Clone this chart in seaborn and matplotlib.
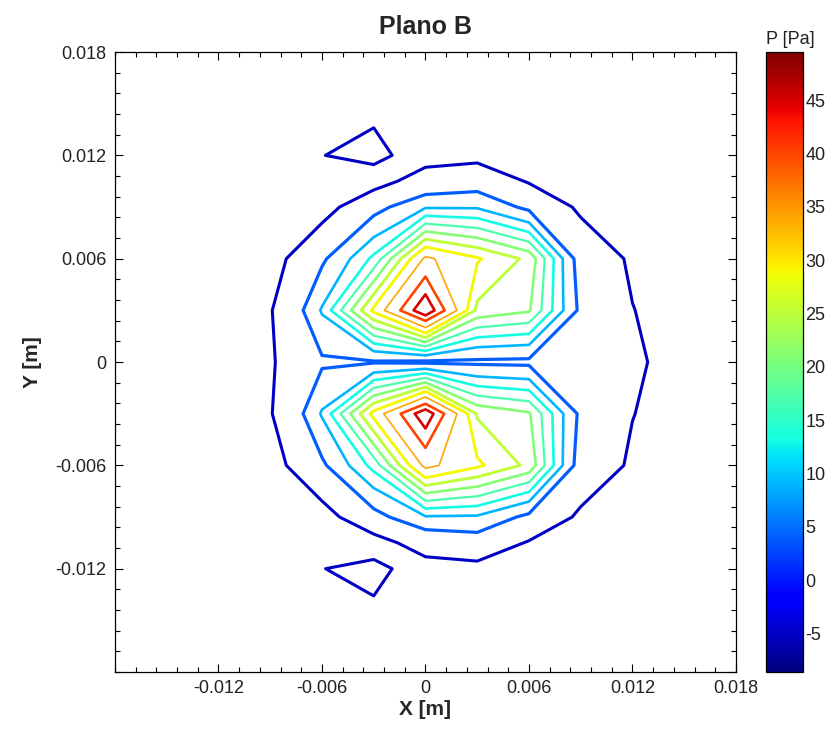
import numpy as np
import matplotlib
matplotlib.use("Agg")
import matplotlib.pyplot as plt
import matplotlib.colors as mcolors
import matplotlib.cm as cm
from matplotlib.ticker import MultipleLocator
import seaborn as sns

# grid coordinates of the pressure samples [m]
x_m = [-0.018, -0.015, -0.012, -0.009, -0.006, -0.003, 0.0,
       0.003, 0.006, 0.009, 0.012, 0.015, 0.018]
y_m = [-0.018, -0.015, -0.012, -0.0105, -0.009, -0.006, -0.003, 0.0,
       0.003, 0.006, 0.009, 0.0105, 0.012, 0.015, 0.018]

# pressure [Pa], one row per y value (bottom to top)
p_y_m018 = [-8.4, -8.3, -8.2, -8.0, -7.8, -7.6, -7.8, -8.0, -8.2, -8.3, -8.4, -8.5, -8.5]
p_y_m015 = [-8.3, -8.2, -8.0, -7.5, -7.0, -6.8, -7.0, -7.5, -8.0, -8.0, -8.2, -8.3, -8.4]
p_y_m012 = [-8.3, -8.0, -7.5, -6.5, -5.15, -3.0, -8.6, -7.5, -7.5, -7.5, -8.0, -8.2, -8.3]
p_y_m0105 = [-8.0, -8.0, -7.8, -8.0, -8.2, -8.6, -0.8, 1.0, -5.7, -7.0, -7.5, -8.0, -8.0]
p_y_m009 = [-8.0, -7.8, -7.5, -7.5, -8.6, 2.0, 8.6, 8.4, 2.6, -6.5, -7.5, -8.0, -8.0]
p_y_m006 = [-7.8, -7.5, -7.0, -8.6, 3.0, 14.5, 35.5, 29.8, 24.0, 1.0, -6.2, -8.2, -7.8]
p_y_m003 = [-7.5, -7.0, -6.8, -5.6, 9.5, 30.5, 48.8, 24.5, 21.5, 2.7, -4.8, -8.6, -7.5]
p_y_0 = [-7.5, -7.0, -6.5, -5.9, 3.2, 3.5, 3.0, 3.0, 2.8, 1.0, -3.5, -8.6, -7.5]
p_y_003 = [-7.5, -7.0, -6.8, -5.6, 9.5, 30.0, 49.5, 24.0, 21.5, 2.7, -4.8, -8.6, -7.5]
p_y_006 = [-7.8, -7.5, -7.0, -8.6, 3.0, 14.0, 35.0, 29.5, 24.0, 1.0, -6.2, -8.2, -7.8]
p_y_009 = [-8.0, -7.8, -7.5, -7.5, -8.6, 2.0, 8.5, 8.5, 2.6, -6.5, -7.5, -8.0, -8.0]
p_y_0105 = [-8.0, -8.0, -7.8, -8.0, -8.2, -8.6, -0.8, 1.0, -5.67, -7.0, -7.5, -8.0, -8.0]
p_y_012 = [-8.3, -8.0, -7.5, -6.5, -5.14, -3.0, -8.6, -7.5, -7.5, -7.5, -8.0, -8.2, -8.3]
p_y_015 = [-8.3, -8.2, -8.0, -7.5, -7.0, -6.75, -7.0, -7.5, -8.0, -8.0, -8.2, -8.3, -8.4]
p_y_018 = [-8.4, -8.3, -8.2, -8.0, -7.8, -7.6, -7.8, -8.0, -8.2, -8.3, -8.4, -8.5, -8.5]

levels = [-5, 4, 9, 13, 17, 21, 25, 29, 34, 40, 45]
p_min, p_max = -8.6, 49.5

x_ticks = [-0.012, -0.006, 0.0, 0.006, 0.012, 0.018]
x_ticklabels = ["-0.012", "-0.006", "0", "0.006", "0.012", "0.018"]
y_ticks = [-0.012, -0.006, 0.0, 0.006, 0.012, 0.018]
y_ticklabels = ["-0.012", "-0.006", "0", "0.006", "0.012", "0.018"]
cbar_ticks = [-5, 0, 5, 10, 15, 20, 25, 30, 35, 40, 45]

P = np.array([p_y_m018, p_y_m015, p_y_m012, p_y_m0105, p_y_m009, p_y_m006,
              p_y_m003, p_y_0, p_y_003, p_y_006, p_y_009, p_y_0105,
              p_y_012, p_y_015, p_y_018])

sns.set_theme(style="white")
plt.rcParams["font.family"] = ["Liberation Sans", "DejaVu Sans"]
plt.rcParams["axes.unicode_minus"] = False

fig = plt.figure(figsize=(8.35, 7.38), dpi=100)
ax = fig.add_axes([0.1377, 0.0894, 0.7437, 0.8401])
cax = fig.add_axes([0.917, 0.0894, 0.0443, 0.8401])

cmap = matplotlib.colormaps["jet"]
norm = mcolors.Normalize(vmin=p_min, vmax=p_max)
line_w = [2.2, 2.3, 1.9, 1.9, 1.6, 1.9, 2.1, 2.1, 1.2, 1.9, 1.9]

ax.contour(x_m, y_m, P, levels=levels, cmap=cmap, norm=norm, linewidths=line_w)

ax.set_xlim(-0.018, 0.018)
ax.set_ylim(-0.018, 0.018)
ax.set_xticks(x_ticks)
ax.set_xticklabels(x_ticklabels)
ax.set_yticks(y_ticks)
ax.set_yticklabels(y_ticklabels)
ax.xaxis.set_minor_locator(MultipleLocator(0.0012))
ax.yaxis.set_minor_locator(MultipleLocator(0.0012))
ax.tick_params(which="both", direction="in", top=True, right=True,
               bottom=True, left=True, colors="black", labelcolor="#222222",
               labelsize=13)
ax.tick_params(which="major", length=6, width=0.8, pad=6)
ax.tick_params(which="minor", length=3.5, width=0.8)
for s in ax.spines.values():
    s.set_color("black")
    s.set_linewidth(0.9)

ax.set_xlabel("X [m]", fontsize=15, fontweight="bold", labelpad=2)
ax.set_ylabel("Y [m]", fontsize=15, fontweight="bold", labelpad=10)
fig.text(0.510, 0.963, "Plano B", ha="center", va="center",
         fontsize=18, fontweight="bold")

cb = fig.colorbar(cm.ScalarMappable(norm=norm, cmap=cmap), cax=cax, ticks=cbar_ticks)
cb.outline.set_edgecolor("black")
cb.outline.set_linewidth(0.9)
cax.tick_params(direction="in", left=True, right=True, length=5, width=0.8,
                labelsize=13, labelcolor="#222222", pad=2)
fig.text(0.946, 0.946, "P [Pa]", ha="center", va="center", fontsize=13,
         color="#222222")

fig.savefig("out.png", dpi=100, facecolor="white")
